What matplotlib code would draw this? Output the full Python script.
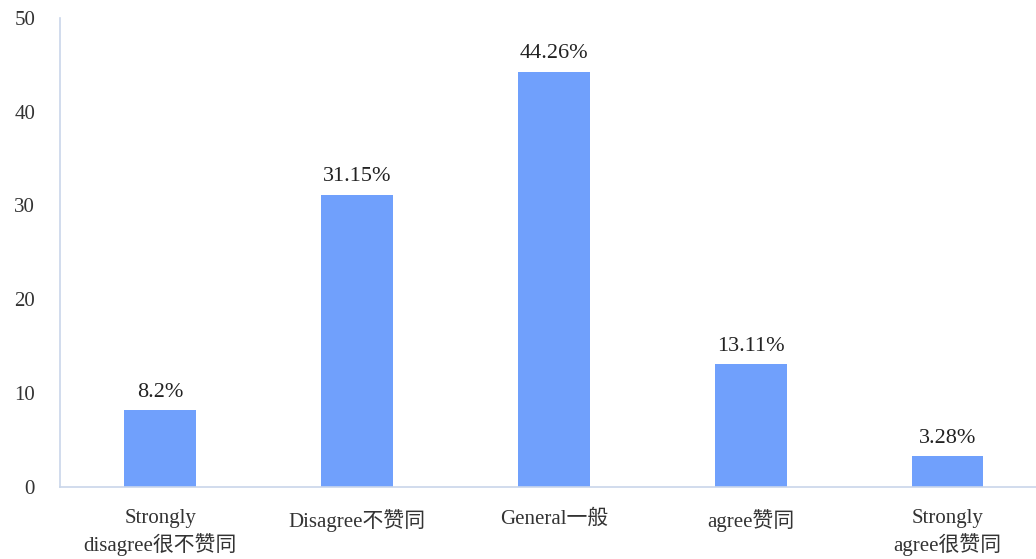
import matplotlib.pyplot as plt

plt.rcParams['font.family'] = ['Liberation Serif', 'Noto Sans CJK SC']

categories = ['Strongly\ndisagree很不赞同', 'Disagree不赞同', 'General一般', 'agree赞同', 'Strongly\nagree很赞同']
values = [8.2, 31.15, 44.26, 13.11, 3.28]
labels = ['8.2%', '31.15%', '44.26%', '13.11%', '3.28%']
yticks = [0, 10, 20, 30, 40, 50]

fig = plt.figure(figsize=(10.36, 5.59), dpi=100)
ax = fig.add_axes([0.058, 0.129, 0.942, 0.839])

x = range(len(categories))
bars = ax.bar(x, values, width=0.365, color='#70a0fc')
for b, lab in zip(bars, labels):
    ax.annotate(lab, (b.get_x() + b.get_width() / 2, b.get_height()),
                xytext=(0, 6), textcoords='offset points',
                ha='center', va='bottom', fontsize=16, color='#222222')

ax.set_xlim(-0.508, 4.45)
ax.set_ylim(0, 50)
ax.set_yticks(yticks)
ax.set_xticks(list(x))
ax.set_xticklabels(categories, fontsize=15, color='#333333', linespacing=1.3)
ax.tick_params(axis='y', length=0, pad=18, labelsize=15, labelcolor='#333333')
ax.tick_params(axis='x', length=0, pad=16)

for s in ['top', 'right']:
    ax.spines[s].set_visible(False)
for s in ['left', 'bottom']:
    ax.spines[s].set_color('#c9d6ea')
    ax.spines[s].set_linewidth(1.2)

fig.savefig('out.png', dpi=100)
